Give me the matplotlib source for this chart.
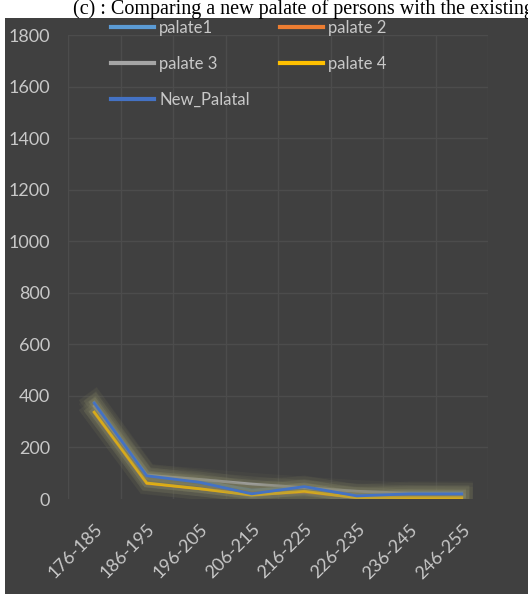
import matplotlib
matplotlib.use("Agg")
import matplotlib.pyplot as plt
import matplotlib.patheffects as pe
from matplotlib.patches import Rectangle

categories = ["176-185", "186-195", "196-205", "206-215", "216-225",
              "226-235", "236-245", "246-255"]
palate1 = [375, 95, 70, 35, 45, 15, 25, 25]
palate2 = [335, 60, 40, 18, 26, 6, 5, 5]
palate3 = [360, 92, 76, 58, 44, 30, 22, 20]
palate4 = [337, 62, 40, 15, 30, 5, 5, 5]
new_palatal = [372, 90, 65, 20, 48, 12, 20, 20]

series_names = ["palate1", "palate 2", "palate 3", "palate 4", "New_Palatal"]
series_values = [palate1, palate2, palate3, palate4, new_palatal]
series_colors = ["#5b9bd5", "#ed7d31", "#a5a5a5", "#ffc000", "#4472c4"]
y_ticks = [0, 200, 400, 600, 800, 1000, 1200, 1400, 1600, 1800]

W, H = 528, 594
fig = plt.figure(figsize=(W / 100, H / 100), dpi=100)
fig.patch.set_facecolor("white")

# dark chart panel
fig.patches.append(Rectangle((5 / W, 0), 1 - 5 / W, (H - 18) / H,
                             transform=fig.transFigure, facecolor="#404040",
                             edgecolor="none", zorder=-5))

fig.text(73 / W, 1 - 14 / H,
         "(c) : Comparing a new palate of persons with the existing",
         family="Liberation Serif", fontsize=14.5, color="black",
         ha="left", va="baseline", zorder=-4)

ax = fig.add_axes([68 / W, (H - 499) / H, 420 / W, 464 / H])
ax.set_facecolor("none")
ax.set_zorder(1)
for s in ax.spines.values():
    s.set_visible(False)

x = list(range(len(categories)))
glow = [pe.Stroke(linewidth=16, foreground="#6f6f58", alpha=0.12),
        pe.Stroke(linewidth=11, foreground="#7a7a60", alpha=0.18),
        pe.Stroke(linewidth=6, foreground="#8c8c6c", alpha=0.25),
        pe.Normal()]
lines = []
for name, vals, col in zip(series_names, series_values, series_colors):
    ln, = ax.plot(x, vals, color=col, lw=2.0, label=name, zorder=3,
                  solid_joinstyle="miter", path_effects=glow)
    lines.append(ln)

ax.set_xlim(-0.5, len(categories) - 0.5)
ax.set_ylim(0, 1800)
ax.set_yticks(y_ticks)
ax.set_xticks(x)
ax.set_xticklabels(categories, rotation=45, ha="right", va="top",
                   rotation_mode="anchor")
for lab in ax.get_yticklabels() + ax.get_xticklabels():
    lab.set_family("Lato")
    lab.set_fontsize(13)
    lab.set_color("#c8c8c8")
ax.tick_params(axis="y", length=0, pad=13)
ax.tick_params(axis="x", length=0, pad=16)

# faint category and value grid
for i in range(len(categories) + 1):
    ax.axvline(i - 0.5, color="#4c4c4c", lw=1, zorder=1)
for t in y_ticks[1:]:
    ax.axhline(t, color="#4c4c4c", lw=1, zorder=1)

# legend entries laid out row by row in two columns
order = [0, 2, 4, 1, 3]
leg = fig.legend([lines[i] for i in order], [series_names[i] for i in order],
                 loc="upper left", bbox_to_anchor=(96 / W, 1 - 5 / H),
                 ncol=2, frameon=False, handlelength=2.6, handletextpad=0.3,
                 columnspacing=1.8, labelspacing=1.2,
                 prop={"family": "Lato", "size": 12})
leg.set_zorder(2)
for t in leg.get_texts():
    t.set_color("#c8c8c8")
for h in leg.get_lines():
    h.set_linewidth(3)
    h.set_path_effects([])

fig.savefig("out.png", dpi=100, facecolor=fig.get_facecolor())
